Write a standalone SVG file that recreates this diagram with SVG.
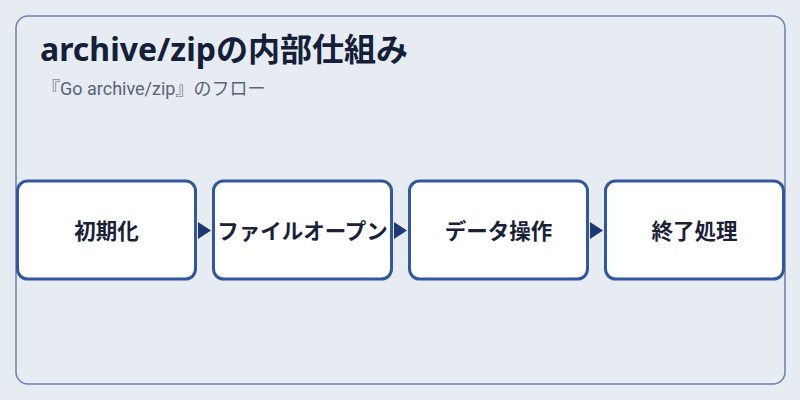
<svg xmlns="http://www.w3.org/2000/svg" width="800" height="400" viewBox="0 0 800 400">
<defs>
<style>
.node rect{fill:#ffffff;stroke:#3157a0;stroke-width:3}
.node text{font-family:"Noto Sans CJK JP","Noto Sans",sans-serif;font-size:21.5px;font-weight:bold;fill:#1a2238;text-anchor:middle}
.conn path{fill:#1f3a73}
</style>
</defs>
<rect x="0" y="0" width="800" height="400" fill="#e7ecf2"/>
<rect x="16" y="16" width="769" height="368" rx="12" fill="#e7ecf2" stroke="#6b80b0" stroke-width="1.5"/>
<text x="40" y="61" font-family="'Noto Sans','Noto Sans CJK JP',sans-serif" font-size="32" font-weight="bold" fill="#14203a">archive/zipの内部仕組み</text>
<text x="42" y="95" font-family="Roboto,'Noto Sans CJK JP',sans-serif" font-size="18" fill="#5a6478">『Go archive/zip』のフロー</text>
<g class="conn">
<path d="M198,222 L211,230.5 L198,239 Z"/>
<path d="M394,222 L407,230.5 L394,239 Z"/>
<path d="M590,222 L603,230.5 L590,239 Z"/>
</g>
<g id="node1" class="node"><rect x="17.5" y="181" width="178" height="98" rx="10"/><text x="106.5" y="239">初期化</text></g>
<g id="node2" class="node"><rect x="213.5" y="181" width="178" height="98" rx="10"/><text x="302.5" y="239">ファイルオープン</text></g>
<g id="node3" class="node"><rect x="409.5" y="181" width="178" height="98" rx="10"/><text x="498.5" y="239">データ操作</text></g>
<g id="node4" class="node"><rect x="605.5" y="181" width="178" height="98" rx="10"/><text x="694.5" y="239">終了処理</text></g>
</svg>
